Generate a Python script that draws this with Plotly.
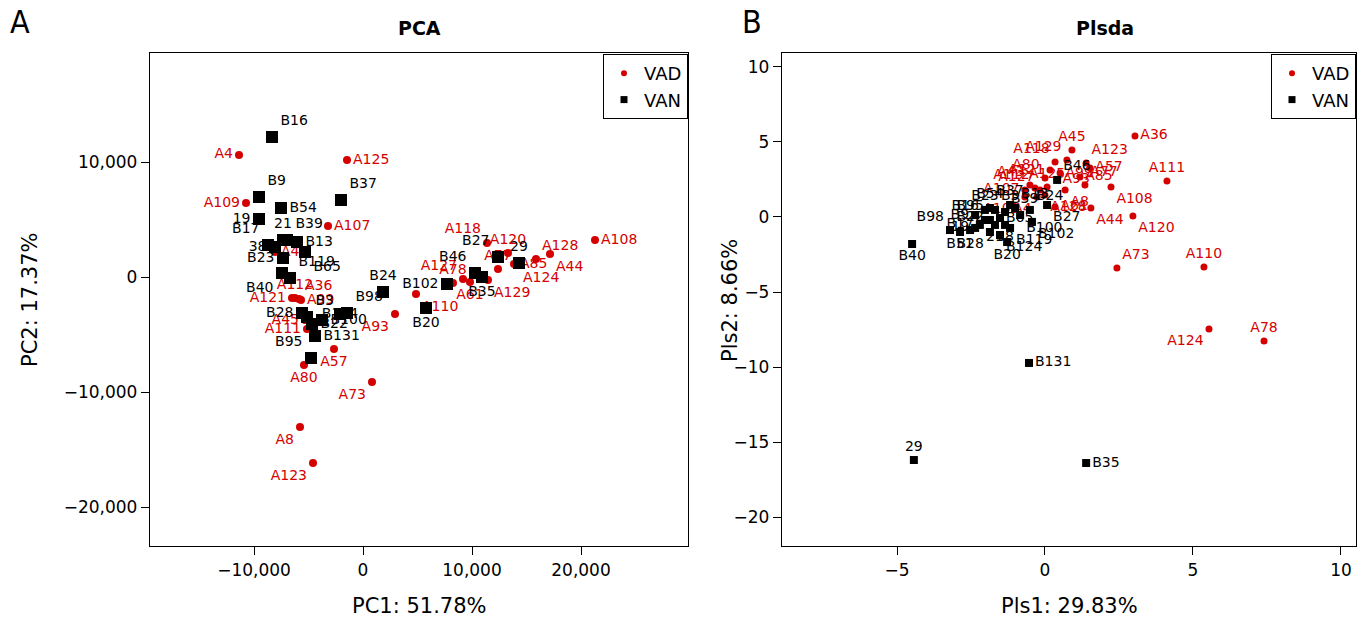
import plotly.graph_objects as go

# ---------------- PCA scores ----------------
pca_vad_names = ["A4", "A125", "A109", "A107", "A43", "A112", "A36", "A121", "A99", "A45",
                 "A111", "A57", "A80", "A73", "A8", "A123", "A93", "A110", "A61", "A78",
                 "A127", "A77", "A129", "A124", "A85", "A44", "A128", "A120", "A118", "A108"]
pca_vad_pc1 = [-11376, -1468, -10734, -3211, -8073, -6239, -5872, -6514, -5688, -5321,
               -5138, -2661, -5413, 826, -5780, -4587, 2936, 4862, 9817, 8257,
               9174, 12385, 11468, 14128, 13853, 17156, 15872, 13303, 11376, 21284]
pca_vad_pc2 = [10609, 10174, 6435, 4435, 2174, -1826, -1913, -1826, -2000, -3739,
               -4522, -6261, -7652, -9130, -13043, -16174, -3217, -1478, -435, -522,
               -174, 696, -261, 1043, 1130, 2000, 1565, 2087, 2957, 3217]

pca_van_names = ["B16", "B9", "B54", "19", "B37", "21", "B39", "B17", "38", "B13",
                 "B23", "B65", "B40", "B119", "B28", "B3", "B124", "B98", "B100", "B22",
                 "B131", "B95", "B24", "B102", "B20", "B46", "B35", "B27", "29"]
pca_van_pc1 = [-8349, -9541, -7523, -9541, -2018, -7339, -6972, -8716, -8073, -6055,
               -7339, -5321, -7431, -6697, -5596, -5138, -2110, -1468, -3761, -4679,
               -4404, -4771, 1835, 7706, 5780, 10275, 10917, 12385, 14312]
pca_van_pc2 = [12174, 6957, 6000, 5043, 6696, 3217, 3217, 2783, 2609, 3043,
               1652, 2174, 348, -87, -3130, -3478, -3217, -3130, -3739, -4087,
               -5130, -7043, -1304, -609, -2696, 348, 0, 1739, 1217]

# ---------------- PLS-DA scores ----------------
pls_vad_names = ["A36", "A111", "A108", "A120", "A73", "A110", "A124", "A78", "A44", "A45",
                 "A129", "A123", "A57", "A118", "A121", "A43", "A107", "A112", "A128", "A77",
                 "A85", "A99", "A127", "A125", "A4", "A109", "A93", "A61", "A8", "A80"]
pls_vad_c1 = [3.04, 4.12, 2.23, 2.97, 2.43, 5.37, 5.54, 7.40, 1.55, 0.91,
              0.74, 1.39, 1.52, 0.34, 0.17, -0.51, -0.68, -0.34, 0.00, 1.35,
              1.18, 0.51, -0.17, 0.07, -0.27, -0.68, 0.41, 0.34, 0.68, 0.00]
pls_vad_c2 = [5.40, 2.40, 2.00, 0.07, -3.40, -3.33, -7.47, -8.27, 0.60, 4.47,
              3.80, 3.60, 3.27, 3.67, 3.13, 2.13, 1.80, 1.93, 1.47, 2.13,
              2.67, 2.93, 1.80, 2.00, 1.33, 1.33, 2.47, 0.67, 1.80, 2.60]

pls_van_names = ["B40", "29", "B131", "B35", "B46", "B27", "B102", "B20", "B98", "B51",
                 "B22", "B23", "B3", "B9", "B95", "B100", "B124", "B119", "B39", "B13",
                 "B17", "B54", "B65", "B28", "B24", "B16", "B37", "21", "38", "19"]
pls_van_c1 = [-4.49, -4.43, -0.54, 1.39, 0.41, 0.07, -0.44, -1.28, -3.21, -2.87,
              -2.53, -2.03, -1.69, -2.36, -1.86, -0.84, -1.52, -1.18, -1.35, -1.01,
              -2.20, -1.86, -1.52, -1.86, -0.51, -2.03, -1.18, -1.69, -1.35, -2.36]
pls_van_c2 = [-1.80, -16.20, -9.73, -16.40, 2.47, 0.80, -0.33, -1.67, -0.87, -1.00,
              -0.87, 0.47, 0.47, 0.13, -0.20, 0.13, -1.20, -0.73, 0.33, 0.60,
              -0.53, 0.60, -0.07, -1.00, 0.47, -0.20, 0.80, -0.53, -0.53, -0.73]

# label placement around each marker
pca_vad_textpos = ["middle left", "middle right", "middle left", "middle right", "middle right",
                   "top center", "top right", "middle left", "middle right", "middle left",
                   "middle left", "bottom center", "bottom center", "bottom left", "bottom left",
                   "bottom left", "bottom left", "bottom right", "bottom center", "top center",
                   "top left", "top center", "bottom right", "bottom right", "middle right",
                   "bottom right", "top right", "top center", "top left", "middle right"]
pca_van_textpos = ["top right", "top right", "middle right", "middle left", "top right",
                   "top center", "top right", "top left", "middle left", "middle right",
                   "middle left", "bottom right", "bottom left", "top right", "middle left",
                   "top right", "middle center", "top right", "middle right", "middle right",
                   "middle right", "top left", "top center", "middle left", "bottom center",
                   "top left", "bottom center", "top left", "top center"]
pls_vad_textpos = ["middle right", "top center", "bottom right", "bottom right", "top right",
                   "top center", "bottom left", "top center", "bottom right", "top center",
                   "top left", "top right", "middle right", "top left", "middle left",
                   "top left", "middle left", "top left", "bottom right", "top right",
                   "middle right", "middle right", "top left", "top center", "bottom left",
                   "bottom left", "middle right", "middle right", "bottom right", "top left"]
pls_van_textpos = ["bottom center", "top center", "middle right", "middle right", "top right",
                   "bottom right", "bottom right", "bottom center", "top left", "bottom center",
                   "top center", "top center", "top right", "middle left", "top left",
                   "bottom right", "bottom right", "bottom right", "top right", "top right",
                   "middle left", "top center", "middle right", "bottom left", "top right",
                   "top left", "top center", "bottom center", "bottom center", "middle left"]

RED = "#D40000"
FONT = "DejaVu Sans, Verdana, sans-serif"
LETTER_FONT = "Liberation Sans Narrow, DejaVu Sans Condensed, sans-serif"
LABEL_SIZE = 14

fig = go.Figure()


def add_group(x, y, names, pos, color, symbol, size, xa, ya):
    fig.add_trace(go.Scatter(
        x=x, y=y, mode="markers+text", showlegend=False,
        text=names, textposition=pos,
        textfont=dict(color=color, size=LABEL_SIZE, family=FONT),
        marker=dict(symbol=symbol, size=size, color=color),
        xaxis=xa, yaxis=ya, cliponaxis=False))


def add_legend_entry(name, color, symbol, size, xa, ya, legend):
    fig.add_trace(go.Scatter(
        x=[None], y=[None], mode="markers", name=name,
        marker=dict(symbol=symbol, size=size, color=color),
        xaxis=xa, yaxis=ya, legend=legend))


# PCA panel
add_group(pca_vad_pc1, pca_vad_pc2, pca_vad_names, pca_vad_textpos, RED, "circle", 8, "x", "y")
add_group(pca_van_pc1, pca_van_pc2, pca_van_names, pca_van_textpos, "black", "square", 12, "x", "y")
add_legend_entry("VAD", RED, "circle", 6, "x", "y", "legend")
add_legend_entry("VAN", "black", "square", 7, "x", "y", "legend")

# PLS-DA panel
add_group(pls_vad_c1, pls_vad_c2, pls_vad_names, pls_vad_textpos, RED, "circle", 7, "x2", "y2")
add_group(pls_van_c1, pls_van_c2, pls_van_names, pls_van_textpos, "black", "square", 8, "x2", "y2")
add_legend_entry("VAD", RED, "circle", 6, "x2", "y2", "legend2")
add_legend_entry("VAN", "black", "square", 7, "x2", "y2", "legend2")

W, H = 1369, 620
ydom = [1 - 546 / H, 1 - 53 / H]

axis_common = dict(
    showgrid=False, zeroline=False, showline=True, linecolor="black", linewidth=1.3,
    mirror=True, ticks="outside", ticklen=8, tickwidth=1.3, tickcolor="black",
    tickfont=dict(size=17, family=FONT, color="black"),
)

legend_common = dict(
    y=1 - 54 / H, xanchor="right", yanchor="top",
    bgcolor="white", bordercolor="black", borderwidth=1,
    font=dict(size=18, family=FONT), itemsizing="trace", tracegroupgap=0,
)


def paper_text(text, px, py, size, family=FONT, angle=0):
    return dict(text=text, x=px / W, y=1 - py / H, xref="paper", yref="paper",
                showarrow=False, textangle=angle, font=dict(size=size, family=family, color="black"),
                xanchor="center", yanchor="middle")


fig.update_layout(
    width=W, height=H, autosize=False,
    margin=dict(l=0, r=0, t=0, b=0),
    paper_bgcolor="white", plot_bgcolor="white",
    font=dict(family=FONT, color="black"),
    xaxis=dict(domain=[150 / W, 688 / W], range=[-19541, 29817],
               tickvals=[-10000, 0, 10000, 20000], tickformat=",d",
               anchor="y", **axis_common),
    yaxis=dict(domain=ydom, range=[-23391, 19478],
               tickvals=[-20000, -10000, 0, 10000], tickformat=",d",
               anchor="x", **axis_common),
    xaxis2=dict(domain=[782 / W, 1356 / W], range=[-8.885, 10.507],
                tickvals=[-5, 0, 5, 10], anchor="y2", **axis_common),
    yaxis2=dict(domain=ydom, range=[-21.93, 10.93],
                tickvals=[-20, -15, -10, -5, 0, 5, 10], anchor="x2", **axis_common),
    legend=dict(x=688 / W, **legend_common),
    legend2=dict(x=1356 / W, **legend_common),
    annotations=[
        paper_text("<b>PCA</b>", 419, 28, 19),
        paper_text("<b>Plsda</b>", 1105, 28, 19),
        paper_text("A", 20, 22, 32, LETTER_FONT),
        paper_text("B", 752, 22, 32, LETTER_FONT),
        paper_text("PC1: 51.78%", 419, 606, 21),
        paper_text("PC2: 17.37%", 30, 300, 21, angle=-90),
        paper_text("Pls1: 29.83%", 1069, 606, 21),
        paper_text("Pls2: 8.66%", 730, 300, 21, angle=-90),
    ],
)

fig.write_html("out.html")
